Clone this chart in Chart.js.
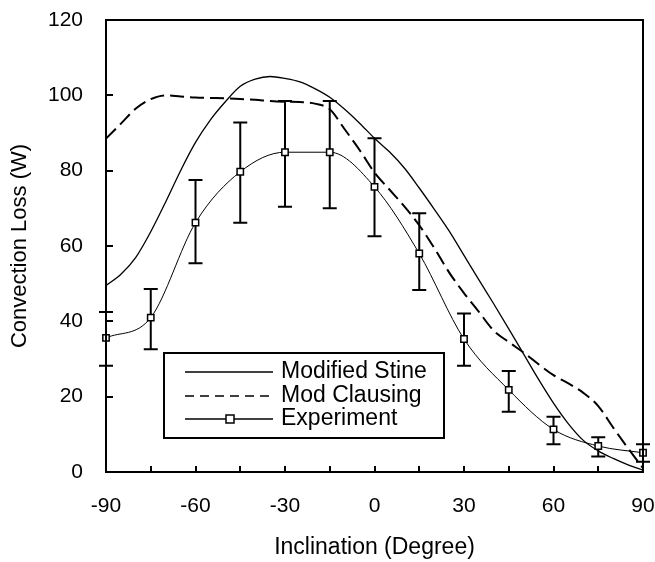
<!DOCTYPE html>
<html>
<head>
<meta charset="utf-8">
<script src="https://cdn.jsdelivr.net/npm/chart.js@4.4.1/dist/chart.umd.min.js"></script>
<style>
  html, body { margin: 0; padding: 0; background: #fff; }
  canvas { display: block; }
</style>
</head>
<body>
<canvas id="chart" width="655" height="562"></canvas>
<script>
// model curves, read every 5 degrees
const modelAngles = [-90, -85, -80, -75, -70, -65, -60, -55, -50, -45, -40, -35, -30, -25, -20, -15, -10, -5, 0,
  5, 10, 15, 20, 25, 30, 35, 40, 45, 50, 55, 60, 65, 70, 75, 80, 85, 90];
const stineValues = [49.5, 52.5, 57, 63.8, 71.7, 80, 87.5, 93.5, 98.3, 102.4, 104.3, 105, 104.5, 103.6, 101.8, 99.5, 96.3, 92.6, 88.6,
  85, 80.7, 75.4, 69.8, 64, 57.5, 51, 44.6, 38, 31.3, 24.6, 18.3, 12.8, 8.4, 5.6, 3.6, 1.9, 0.5];
const clausingValues = [88.5, 92.5, 96.5, 99, 100, 99.7, 99.4, 99.3, 99.2, 99, 98.8, 98.5, 98.3, 98.2, 97.8, 96.3, 91, 85.5, 79.5,
  75, 70.5, 65.5, 59.5, 53, 47.5, 42.5, 37.5, 34.5, 31.7, 28.6, 25.7, 23.5, 21, 17.5, 11.8, 6.3, 1];

// measurements with error bars
const expAngles = [-90, -75, -60, -45, -30, -15, 0, 15, 30, 45, 60, 75, 90];
const expValues = [35.6, 41, 66.2, 79.7, 84.9, 84.9, 75.7, 58, 35.3, 21.8, 11.3, 6.9, 5.1];
const expLow = [28.2, 32.6, 55.4, 66.2, 70.4, 70, 62.6, 48.3, 28.2, 16, 7.4, 4.1, 2.7];
const expHigh = [42.5, 48.6, 77.5, 92.8, 98.5, 98.5, 88.6, 68.7, 42.1, 26.8, 14.7, 9.2, 7.4];

const seriesNames = ["Modified Stine", "Mod Clausing", "Experiment"];
const xTickMarks = [-90, -75, -60, -45, -30, -15, 0, 15, 30, 45, 60, 75, 90];
const xTicks = [-90, -60, -30, 0, 30, 60, 90];
const yTicks = [0, 20, 40, 60, 80, 100, 120];

const FONT = "'Liberation Sans', Arial, sans-serif";

function toPoints(xs, ys) {
  return xs.map((x, i) => ({ x: x, y: ys[i] }));
}

// frame, inward ticks, error bars and the legend box
const framePlugin = {
  id: "frame",
  beforeDatasetsDraw(chart) {
    const { ctx } = chart;
    const xs = chart.scales.x;
    const ys = chart.scales.y;
    ctx.save();
    ctx.strokeStyle = "#000";
    ctx.lineWidth = 2;
    expAngles.forEach((a, i) => {
      const px = xs.getPixelForValue(a);
      const lo = ys.getPixelForValue(expLow[i]);
      const hi = ys.getPixelForValue(expHigh[i]);
      ctx.beginPath();
      ctx.moveTo(px, lo);
      ctx.lineTo(px, hi);
      ctx.moveTo(px - 7, lo);
      ctx.lineTo(px + 7, lo);
      ctx.moveTo(px - 7, hi);
      ctx.lineTo(px + 7, hi);
      ctx.stroke();
    });
    ctx.restore();
  },
  afterDraw(chart) {
    const { ctx, chartArea } = chart;
    const xs = chart.scales.x;
    const ys = chart.scales.y;
    ctx.save();
    ctx.strokeStyle = "#000";
    ctx.lineWidth = 2;
    ctx.strokeRect(chartArea.left, chartArea.top, chartArea.right - chartArea.left, chartArea.bottom - chartArea.top);
    ctx.beginPath();
    xs.ticks.forEach((t) => {
      const px = Math.round(xs.getPixelForValue(t.value));
      ctx.moveTo(px, chartArea.bottom);
      ctx.lineTo(px, chartArea.bottom - 6);
    });
    ys.ticks.forEach((t) => {
      const py = Math.round(ys.getPixelForValue(t.value));
      ctx.moveTo(chartArea.left, py);
      ctx.lineTo(chartArea.left + 7, py);
    });
    ctx.stroke();

    // legend
    const bx = 164, by = 353, bw = 280, bh = 85;
    ctx.fillStyle = "#fff";
    ctx.fillRect(bx, by, bw, bh);
    ctx.strokeRect(bx, by, bw, bh);
    const rows = [372, 396, 419];
    ctx.font = "23px " + FONT;
    ctx.textBaseline = "middle";
    ctx.fillStyle = "#000";
    rows.forEach((ry, i) => {
      ctx.beginPath();
      ctx.lineWidth = i === 1 ? 1.5 : 1.3;
      ctx.setLineDash(i === 1 ? [9, 6] : []);
      ctx.moveTo(185, ry);
      ctx.lineTo(273, ry);
      ctx.stroke();
      ctx.setLineDash([]);
      if (i === 2) {
        ctx.lineWidth = 1.5;
        ctx.fillStyle = "#fff";
        ctx.fillRect(226, ry - 4, 8, 8);
        ctx.strokeRect(226, ry - 4, 8, 8);
        ctx.fillStyle = "#000";
      }
      ctx.fillText(seriesNames[i], 281, ry);
    });
    ctx.restore();
  },
};

new Chart(document.getElementById("chart"), {
  type: "line",
  data: {
    datasets: [
      {
        label: seriesNames[0],
        data: toPoints(modelAngles, stineValues),
        borderColor: "#000",
        borderWidth: 1.3,
        pointRadius: 0,
        cubicInterpolationMode: "monotone",
      },
      {
        label: seriesNames[1],
        data: toPoints(modelAngles, clausingValues),
        borderColor: "#000",
        borderWidth: 2,
        borderDash: [14, 6],
        pointRadius: 0,
        cubicInterpolationMode: "monotone",
      },
      {
        label: seriesNames[2],
        data: toPoints(expAngles, expValues),
        borderColor: "#000",
        borderWidth: 1,
        pointStyle: "rect",
        pointRadius: 4.5,
        pointBorderWidth: 1.5,
        pointBackgroundColor: "#fff",
        pointBorderColor: "#000",
        cubicInterpolationMode: "monotone",
        clip: false,
      },
    ],
  },
  options: {
    responsive: false,
    animation: false,
    devicePixelRatio: 1,
    layout: { padding: { top: 20, right: 12, left: 0, bottom: 0 } },
    plugins: {
      legend: { display: false },
      tooltip: { enabled: false },
    },
    scales: {
      x: {
        type: "linear",
        min: -90,
        max: 90,
        afterBuildTicks: (s) => {
          s.ticks = xTickMarks.map((v) => ({ value: v }));
        },
        afterFit: (s) => {
          s.height = 90;
          s.paddingLeft = 0;
          s.paddingRight = 0;
        },
        ticks: {
          autoSkip: false,
          maxRotation: 0,
          padding: 22,
          color: "#000",
          font: { family: FONT, size: 21 },
          callback: (v) => (xTicks.includes(v) ? String(v) : ""),
        },
        grid: { drawOnChartArea: false, drawTicks: false },
        border: { display: false },
        title: {
          display: true,
          text: "Inclination (Degree)",
          color: "#000",
          font: { family: FONT, size: 23 },
          padding: { top: 1, bottom: 1 },
        },
      },
      y: {
        min: 0,
        max: 120,
        afterBuildTicks: (s) => {
          s.ticks = yTicks.map((v) => ({ value: v }));
        },
        afterFit: (s) => {
          s.width = 106;
          s.paddingTop = 0;
          s.paddingBottom = 0;
        },
        ticks: {
          padding: 23,
          color: "#000",
          font: { family: FONT, size: 21 },
        },
        grid: { drawOnChartArea: false, drawTicks: false },
        border: { display: false },
        title: {
          display: true,
          text: "Convection Loss (W)",
          color: "#000",
          font: { family: FONT, size: 22 },
          padding: { top: 7, bottom: 7 },
        },
      },
    },
  },
  plugins: [framePlugin],
});
</script>
</body>
</html>
